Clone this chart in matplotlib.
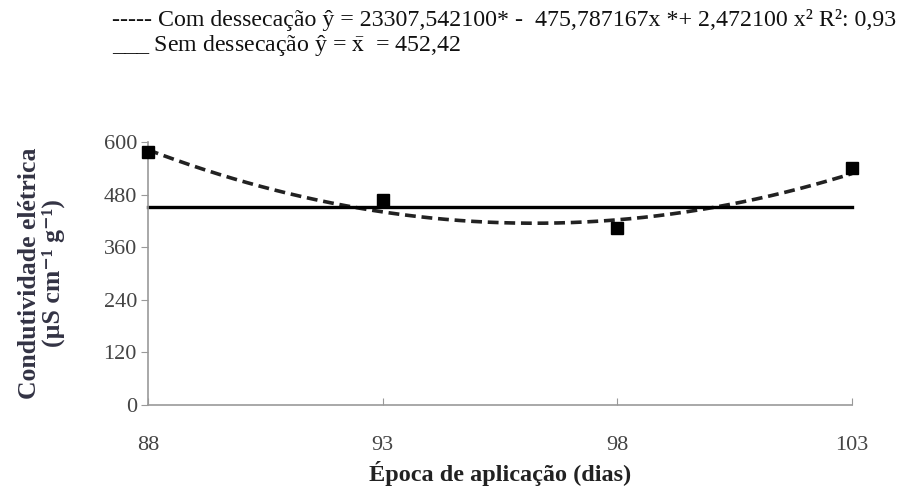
import numpy as np
import matplotlib
matplotlib.use("Agg")
import matplotlib.pyplot as plt

# Data
epocas = [88, 93, 98, 103]
com_dessecacao = [577, 468, 404, 541]
coef_quad = [23307.542100, -475.787167, 2.472100]  # b0, b1, b2 (from legend)
media_sem = 452.42
yticks = [0, 120, 240, 360, 480, 600]
xticks = [88, 93, 98, 103]

SERIF = ['Liberation Serif', 'DejaVu Serif']
plt.rcParams['font.family'] = SERIF
plt.rcParams['mathtext.fontset'] = 'stix'

fig = plt.figure(figsize=(9, 4.95), dpi=100)
ax = fig.add_axes([148/900, 1-405/495, (852-148)/900, (405-142)/495])

xs = np.linspace(epocas[0], epocas[-1], 200)
ys = coef_quad[0] + coef_quad[1]*xs + coef_quad[2]*xs**2
ax.plot(xs, ys, color='#222222', lw=2.6, ls=(0, (3, 1.6)), clip_on=False)
ax.plot([epocas[0], epocas[-1]], [media_sem, media_sem], color='black', lw=2.4, clip_on=False)
ax.plot(epocas, com_dessecacao, ls='none', marker='s', ms=9, color='black', clip_on=False, zorder=5)

ax.set_xlim(88, 103)
ax.set_ylim(0, 600)
ax.set_xticks(xticks)
ax.set_yticks(yticks)
for s in ['top', 'right']:
    ax.spines[s].set_visible(False)
for s in ['left', 'bottom']:
    ax.spines[s].set_color('#999999')
    ax.spines[s].set_linewidth(1.2)
ax.tick_params(axis='y', direction='out', length=5, color='#999999', labelsize=16, labelcolor='#444444', pad=3)
ax.tick_params(axis='x', direction='in', length=5, color='#999999', labelsize=16, labelcolor='#444444', pad=22)

ax.set_xlabel('Época de aplicação (dias)', fontsize=17.5, fontweight='bold', color='#222222', labelpad=5)
ax.set_ylabel('Condutividade elétrica\n(µS cm⁻¹ g⁻¹)', fontsize=18.5,
              fontweight='bold', color='#333344', labelpad=28, linespacing=1.0)

fig.text(112/900, 1-20/495, '----- Com dessecação ŷ = 23307,542100* -  475,787167x *+ 2,472100 x² R²: 0,93',
         fontsize=17.2, va='center', ha='left', color='#111111', family=SERIF)
fig.text(112/900, 1-46/495, r'___ Sem dessecação ŷ = $\bar{\mathrm{x}}$  = 452,42',
         fontsize=17.2, va='center', ha='left', color='#111111', family=SERIF)

fig.savefig('out.png', dpi=100)
